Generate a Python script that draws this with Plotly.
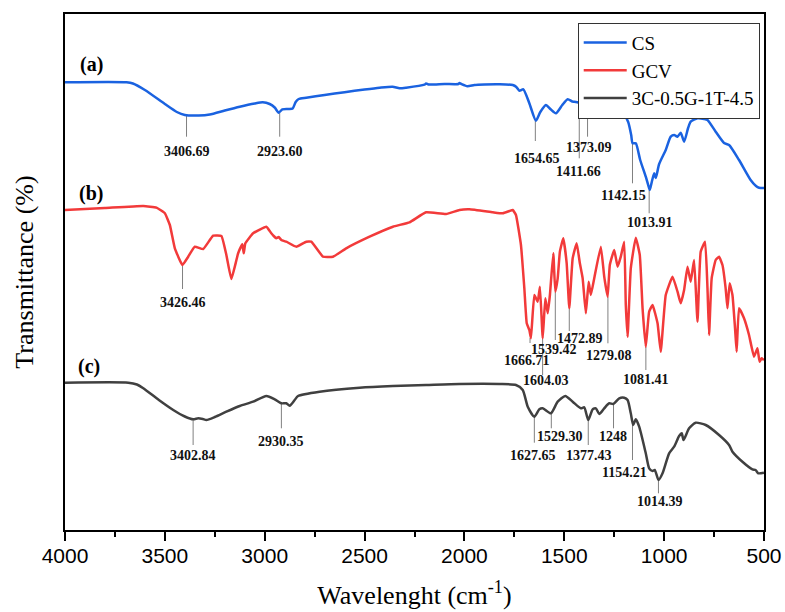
import plotly.graph_objects as go

# ---------------- data (wavenumber cm-1, offset transmittance, a.u.) ----------------
wn_cs = [4000, 3692, 3660, 3600, 3500, 3440, 3400, 3330, 3275, 3200, 3125, 3050, 3010, 2975,
         2950, 2930, 2912, 2880, 2860, 2845, 2830, 2792, 2700, 2600, 2500, 2425, 2360, 2325,
         2292, 2200, 2192, 2180, 2100, 2030, 2025, 2015, 1985, 1950, 1900, 1825, 1758, 1740,
         1725, 1705, 1675, 1642, 1620, 1592, 1570, 1542, 1510, 1483, 1460, 1450, 1425, 1400,
         1383, 1365, 1342, 1312, 1295, 1283, 1258, 1230, 1200, 1180, 1165, 1158, 1142, 1120,
         1092, 1080, 1072, 1062, 1050, 1042, 1025, 992, 967, 950, 933, 917, 900, 880, 867,
         833, 800, 783, 742, 700, 675, 625, 567, 540, 525, 500]
t_cs = [447.7, 447.7, 446.5, 440, 426, 418, 415, 414.5, 415.5, 419.5, 423.3, 426.5, 427.7, 426,
        422.5, 417.3, 420.7, 421, 421.5, 428, 431, 432.3, 435, 437.8, 440.5, 442.3, 443.3, 441.7,
        442.3, 445.3, 446.5, 445.5, 446, 446, 447, 446, 443.8, 445, 445.5, 445.7, 445, 443,
        439.3, 440.7, 426.7, 409.3, 418, 425, 421, 416.7, 425, 430.7, 428.5, 428.3, 427.3, 425,
        418.3, 424, 426.7, 423.3, 426, 429.3, 425, 420, 415, 408, 395, 386.7, 386.7, 370,
        353.3, 345, 340, 348, 356.7, 352, 366, 380, 393.3, 395, 393.3, 397.3, 388.3, 402, 408.3,
        411.7, 411, 410, 398.3, 387, 385, 370, 350, 344, 342.3, 342]

wn_gcv = [4000, 3800, 3608, 3542, 3500, 3475, 3450, 3412, 3383, 3350, 3308, 3258, 3217, 3192,
          3167, 3133, 3112, 3105, 3097, 3058, 2992, 2967, 2955, 2942, 2930, 2917, 2892, 2842,
          2792, 2767, 2708, 2658, 2592, 2475, 2358, 2275, 2192, 2092, 2025, 1975, 1858, 1808,
          1775, 1758, 1742, 1717, 1700, 1688, 1675, 1667, 1650, 1633, 1622, 1608, 1595, 1583,
          1572, 1555, 1545, 1533, 1522, 1505, 1488, 1475, 1458, 1438, 1422, 1408, 1392, 1378,
          1367, 1350, 1317, 1300, 1283, 1272, 1250, 1233, 1217, 1200, 1192, 1183, 1167, 1142,
          1122, 1108, 1092, 1075, 1058, 1033, 1017, 992, 958, 933, 917, 900, 883, 867, 850,
          833, 817, 795, 783, 775, 762, 742, 725, 708, 692, 683, 672, 658, 645, 637, 625, 600,
          575, 550, 533, 522, 512, 500]
t_gcv = [320, 322, 324, 322.3, 316.7, 305, 281.7, 265, 273.3, 283.3, 281, 294.3, 294, 275,
         251, 276.7, 285.7, 276.7, 286.7, 296.7, 303.3, 296.7, 294, 291.7, 293, 290, 288.3, 283.3,
         288.3, 288.3, 273.3, 273.3, 281.7, 293.3, 303.3, 307.7, 317.7, 316, 320, 320.7, 317.7, 316.7,
         319, 320, 315, 285, 241.7, 206.7, 200, 191.7, 235, 228.3, 243.3, 191.7, 231.7, 216.7,
         235, 276.7, 238.3, 251.7, 278.3, 291.7, 266.7, 221.7, 271.7, 286.7, 266.7, 251.7, 216.7, 248.3,
         235, 251.7, 283.3, 253.3, 233.3, 265, 280, 263.3, 273.3, 288.3, 225, 193.3, 261.7, 292.3,
         275, 221.7, 183.3, 218.3, 225, 206.7, 178.3, 235, 253.3, 238.3, 226.7, 240, 263.3, 248.3, 270,
         208.3, 278.3, 288.3, 241.7, 195, 251.7, 270, 273.3, 265, 241.7, 221.7, 246.7, 235, 201.7, 178.3, 221.7, 211.7,
         195, 173.3, 181.7, 168.3, 171.7, 170]

wn_cmp = [4000, 3683, 3640, 3608, 3530, 3458, 3400, 3358, 3333, 3310, 3292, 3250, 3192, 3125,
          3058, 2992, 2950, 2917, 2892, 2875, 2850, 2833, 2725, 2525, 2358, 2192, 2025, 1825,
          1742, 1708, 1683, 1650, 1625, 1608, 1567, 1533, 1495, 1458, 1417, 1400, 1380, 1358,
          1342, 1325, 1300, 1275, 1255, 1225, 1200, 1183, 1167, 1155, 1142, 1125, 1092, 1075,
          1058, 1047, 1028, 1008, 975, 950, 925, 912, 903, 875, 842, 792, 725, 675, 658, 608,
          558, 542, 529, 500]
t_cmp = [147.3, 147.3, 145.5, 141.7, 130, 120, 113.5, 110.7, 111.7, 111, 110, 113, 118.3, 124,
         128.3, 134, 130.7, 126.7, 126.7, 124.3, 130, 134, 138.3, 142.3, 144, 145, 146, 146,
         145, 140, 123.3, 113.3, 120.7, 121.7, 116.7, 128.3, 134, 128.3, 121.7, 122.7, 110, 120.7,
         121.7, 116, 121.7, 126.7, 126, 131.7, 132.3, 130, 116.7, 105, 110.7, 103.3, 76.7, 61.7,
         59, 60, 50, 56.7, 76.7, 83.3, 94, 96.7, 90, 101.7, 107.3, 105, 95, 85, 78.3, 68.3,
         60.7, 60, 56.7, 57.3]

series_names = ["CS", "GCV", "3C-0.5G-1T-4.5"]
panel_tags = ["(a)", "(b)", "(c)"]

peaks_cs = ["3406.69", "2923.60", "1654.65", "1411.66", "1373.09", "1142.15", "1013.91"]
peaks_gcv = ["3426.46", "1666.71", "1604.03", "1539.42", "1472.89", "1279.08", "1081.41"]
peaks_cmp = ["3402.84", "2930.35", "1627.65", "1529.30", "1377.43", "1248", "1154.21", "1014.39"]

x_ticks = [4000, 3500, 3000, 2500, 2000, 1500, 1000, 500]

# ---------------- layout of the peak markers: (line x, line y0, line y1, text x, text y) ----------------
pos_cs = [(3391.5, 415, 393.3, 3387.5, 378.7), (2925, 417.3, 393.3, 2925, 378.7),
          (1645, 409.3, 389, 1639, 372), (1425, 427.3, 371.7, 1426.5, 358.3),
          (1383.5, 418.3, 393.3, 1376.5, 382.3), (1158.5, 386.7, 346.7, 1206, 335),
          (1075, 340, 316.7, 1071, 307.2)]
pos_gcv = [(3411.5, 265, 241, 3410, 227.2), (1671.5, 192, 187, 1687.5, 169.5),
           (1608.5, 192, 155, 1593.5, 149.2), (1545, 238.3, 190, 1554, 180.8),
           (1475, 221.7, 199, 1422.5, 192), (1281.5, 233.3, 186.7, 1276.5, 174.2),
           (1091.5, 183.3, 160, 1089, 150.8)]
pos_cmp = [(3358.5, 111.7, 85, 3358.5, 74.7), (2916.5, 126.7, 101.7, 2918.5, 89),
           (1650, 113.3, 87.3, 1656, 75), (1565, 116.7, 101.7, 1522.5, 93.3),
           (1380, 110, 85, 1376.5, 75), (1253.5, 126, 101.7, 1254, 93.3),
           (1158.5, 105, 70, 1197.5, 57.7), (1028.5, 50, 36.7, 1022.5, 28.3)]
tag_pos = [(3866.5, 465.3), (3871, 336.7), (3880, 163.5)]

colors = ["#1A62E0", "#F23A3A", "#404040"]
SERIF = "Liberation Serif"

fig = go.Figure()
for name, xs, ys, c, sm in zip(series_names, [wn_cs, wn_gcv, wn_cmp], [t_cs, t_gcv, t_cmp], colors,
                               [0.6, 0.35, 0.6]):
    fig.add_trace(go.Scatter(x=xs, y=ys, mode="lines", name=name,
                             line=dict(color=c, width=2.5, shape="spline", smoothing=sm)))

shapes = []
annotations = []
for labels, pos in [(peaks_cs, pos_cs), (peaks_gcv, pos_gcv), (peaks_cmp, pos_cmp)]:
    for lab, (lx, y0, y1, tx, ty) in zip(labels, pos):
        shapes.append(dict(type="line", xref="x", yref="y", x0=lx, x1=lx, y0=y0, y1=y1,
                           line=dict(color="#808080", width=1), layer="below"))
        annotations.append(dict(x=tx, y=ty, xref="x", yref="y", text=f"<b>{lab}</b>",
                                showarrow=False, xanchor="center", yanchor="middle",
                                font=dict(family=SERIF, size=14, color="#111111")))
for tag, (tx, ty) in zip(panel_tags, tag_pos):
    annotations.append(dict(x=tx, y=ty, xref="x", yref="y", text=f"<b>{tag}</b>",
                            showarrow=False, xanchor="center", yanchor="middle",
                            font=dict(family=SERIF, size=20, color="black")))

fig.update_layout(
    width=785, height=612,
    margin=dict(l=65, r=21, t=14, b=82),
    paper_bgcolor="white", plot_bgcolor="white",
    shapes=shapes, annotations=annotations,
    showlegend=True,
    legend=dict(x=0.7335, y=0.983, xanchor="left", yanchor="top",
                bgcolor="white", bordercolor="#333333", borderwidth=1,
                font=dict(family=SERIF, size=19, color="black"),
                itemwidth=43, tracegroupgap=0),
    xaxis=dict(range=[4000, 500], tickvals=x_ticks, ticks="outside", ticklen=9, tickwidth=2,
               tickcolor="black", showline=True, linewidth=2, linecolor="black", mirror=True,
               showgrid=False, zeroline=False, ticklabelstandoff=-3,
               tickfont=dict(family="Liberation Sans", size=21, color="black"),
               minor=dict(dtick=250, ticks="outside", ticklen=5, tickwidth=2, tickcolor="black",
                          showgrid=False),
               title=dict(text="Wavelenght (cm<sup>-1</sup>)", standoff=20,
                          font=dict(family=SERIF, size=26, color="black")),
               automargin=False),
    yaxis=dict(range=[0, 516], showticklabels=False, ticks="", showline=True, linewidth=2,
               linecolor="black", mirror=True, showgrid=False, zeroline=False,
               title=dict(text="Transmittance (%)", standoff=22,
                          font=dict(family=SERIF, size=26, color="black")),
               automargin=False),
)

fig.write_html("out.html")
